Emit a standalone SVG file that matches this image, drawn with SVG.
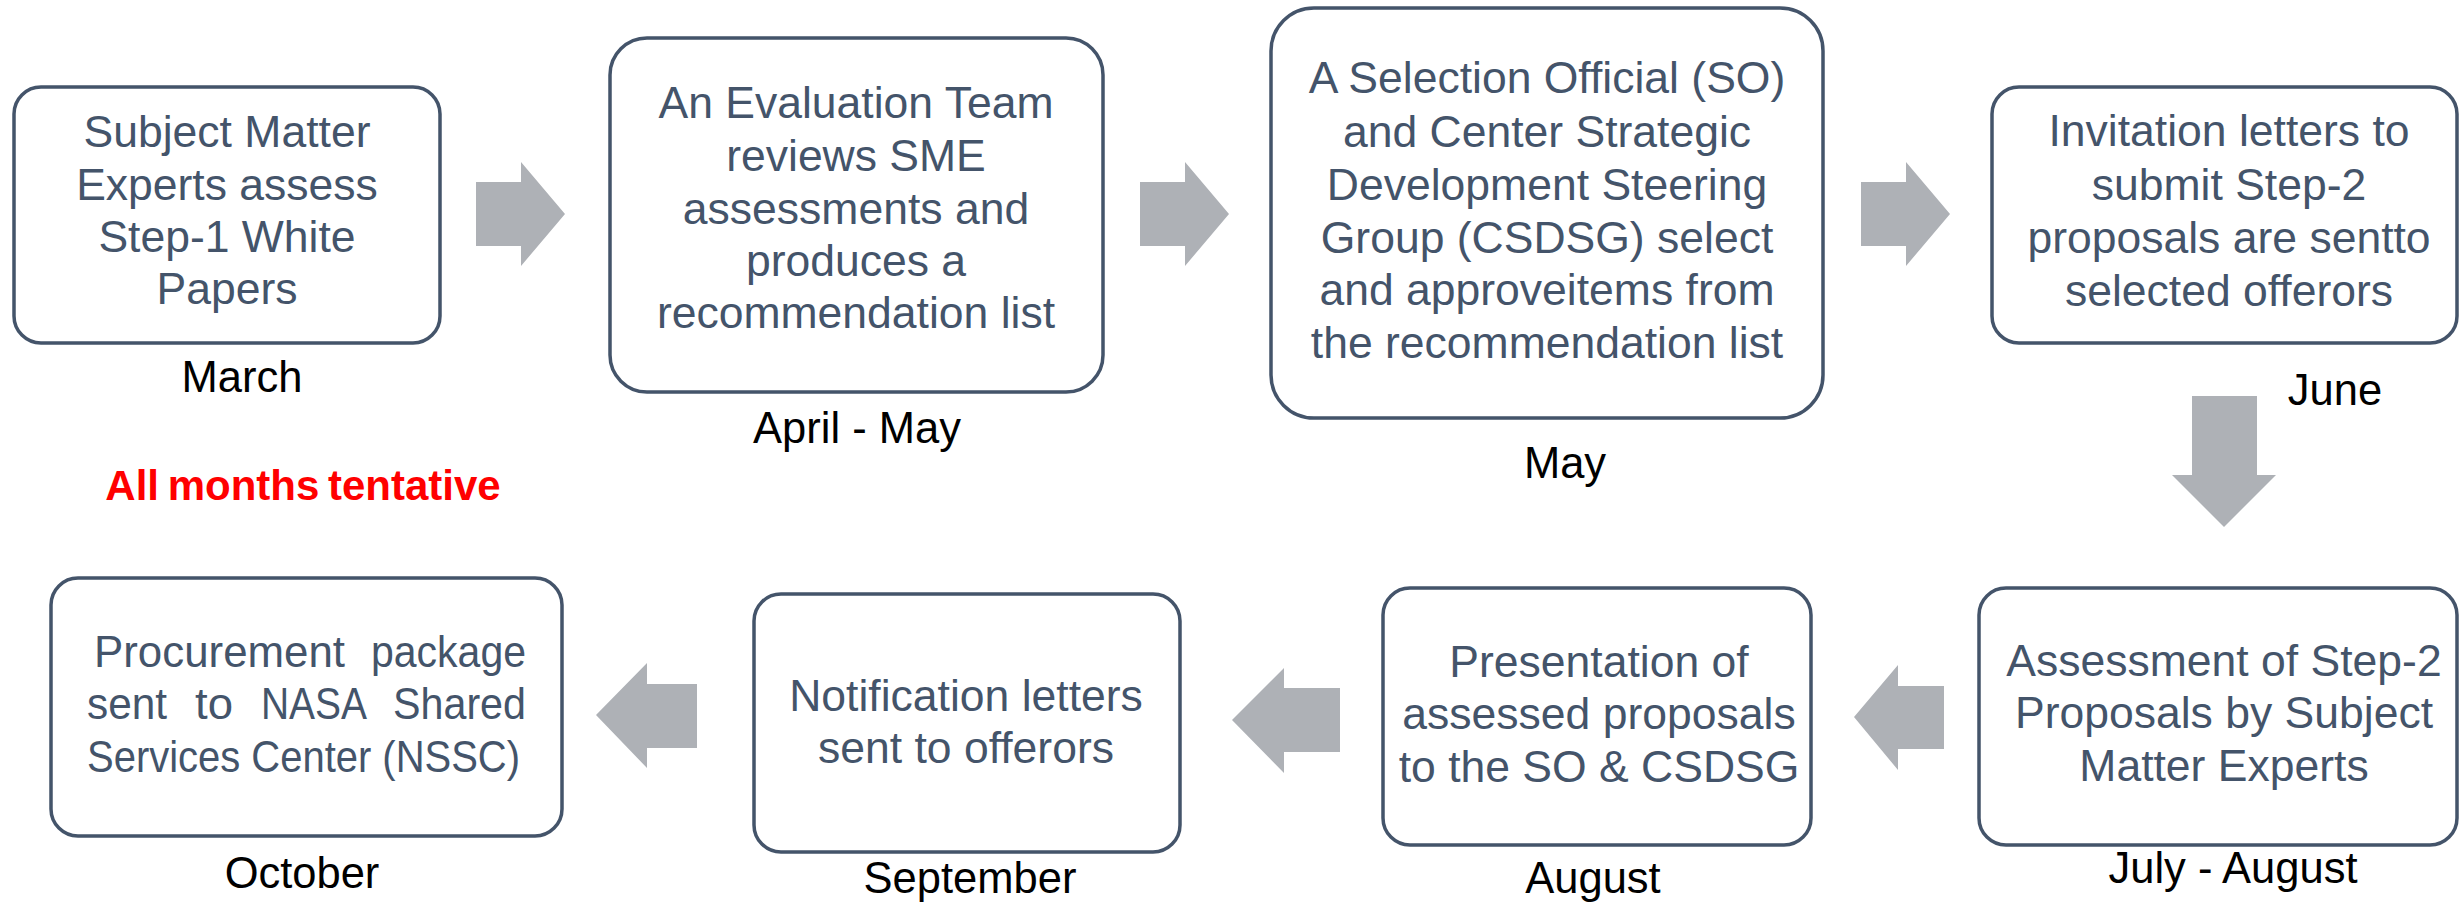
<svg xmlns="http://www.w3.org/2000/svg" width="2461" height="902" viewBox="0 0 2461 902">
  <style>
    .box { fill: #ffffff; stroke: #44546a; stroke-width: 3.5; }
    .txt { font-family: "Liberation Sans", Arial, sans-serif; font-size: 44.5px; fill: #44546a; text-anchor: middle; }
    .txtl { font-family: "Liberation Sans", Arial, sans-serif; font-size: 44.5px; fill: #44546a; }
    .mon { font-family: "Liberation Sans", Arial, sans-serif; font-size: 43.5px; fill: #000000; text-anchor: middle; }
    .note { font-family: "Liberation Sans", Arial, sans-serif; font-size: 42px; font-weight: bold; fill: #ff0000; text-anchor: middle; word-spacing: -3px; }
    .arrow { fill: #aeb1b6; }
  </style>
  <rect x="0" y="0" width="2461" height="902" fill="#ffffff"/>

  <!-- flow arrows -->
  <g id="connectors">
    <polygon class="arrow" points="476,182 521,182 521,162 565,214 521,266 521,246 476,246"/>
    <polygon class="arrow" points="1140,182 1185,182 1185,162 1229,214 1185,266 1185,246 1140,246"/>
    <polygon class="arrow" points="1861,182 1906,182 1906,162 1950,214 1906,266 1906,246 1861,246"/>
    <polygon class="arrow" points="2192,396 2257,396 2257,475 2276,475 2224,527 2172,475 2192,475"/>
    <polygon class="arrow" points="1944,686 1898,686 1898,665 1854,717 1898,770 1898,749 1944,749"/>
    <polygon class="arrow" points="1340,688 1284,688 1284,668 1232,720 1284,773 1284,752 1340,752"/>
    <polygon class="arrow" points="697,684 647,684 647,663 596,715 647,768 647,748 697,748"/>
  </g>

  <g id="step1">
    <rect class="box" x="14" y="87" width="426" height="256" rx="27"/>
    <text class="txt" x="227" y="147">Subject Matter</text>
    <text class="txt" x="227" y="200">Experts assess</text>
    <text class="txt" x="227" y="252">Step-1 White</text>
    <text class="txt" x="227" y="304">Papers</text>
    <text class="mon" x="242" y="392">March</text>
  </g>

  <g id="step2">
    <rect class="box" x="610" y="38" width="493" height="354" rx="37"/>
    <text class="txt" x="856" y="118">An Evaluation Team</text>
    <text class="txt" x="856" y="171">reviews SME</text>
    <text class="txt" x="856" y="224">assessments and</text>
    <text class="txt" x="856" y="276">produces a</text>
    <text class="txt" x="856" y="328">recommendation list</text>
    <text class="mon" x="857" y="443">April - May</text>
  </g>

  <g id="step3">
    <rect class="box" x="1271" y="8" width="552" height="410" rx="43"/>
    <text class="txt" x="1547" y="93">A Selection Official (SO)</text>
    <text class="txt" x="1547" y="147">and Center Strategic</text>
    <text class="txt" x="1547" y="200">Development Steering</text>
    <text class="txt" x="1547" y="253">Group (CSDSG) select</text>
    <text class="txt" x="1547" y="305">and approveitems from</text>
    <text class="txt" x="1547" y="358">the recommendation list</text>
    <text class="mon" x="1565" y="478">May</text>
  </g>

  <g id="step4">
    <rect class="box" x="1992" y="87" width="465" height="256" rx="27"/>
    <text class="txt" x="2229" y="146">Invitation letters to</text>
    <text class="txt" x="2229" y="200">submit Step-2</text>
    <text class="txt" x="2229" y="253">proposals are sentto</text>
    <text class="txt" x="2229" y="306">selected offerors</text>
    <text class="mon" x="2335" y="405">June</text>
  </g>

  <g id="step5">
    <rect class="box" x="1979" y="588" width="478" height="257" rx="27"/>
    <text class="txt" x="2224" y="676">Assessment of Step-2</text>
    <text class="txt" x="2224" y="728">Proposals by Subject</text>
    <text class="txt" x="2224" y="781">Matter Experts</text>
    <text class="mon" x="2233" y="883">July - August</text>
  </g>

  <g id="step6">
    <rect class="box" x="1383" y="588" width="428" height="257" rx="27"/>
    <text class="txt" x="1599" y="677">Presentation of</text>
    <text class="txt" x="1599" y="729">assessed proposals</text>
    <text class="txt" x="1599" y="782">to the SO &amp; CSDSG</text>
    <text class="mon" x="1593" y="893">August</text>
  </g>

  <g id="step7">
    <rect class="box" x="754" y="594" width="426" height="258" rx="27"/>
    <text class="txt" x="966" y="711">Notification letters</text>
    <text class="txt" x="966" y="763">sent to offerors</text>
    <text class="mon" x="970" y="893">September</text>
  </g>

  <!-- justified paragraph: each word placed on its own -->
  <g id="step8">
    <rect class="box" x="51" y="578" width="511" height="258" rx="27"/>
    <text class="txtl" x="94" y="667" textLength="251" lengthAdjust="spacingAndGlyphs">Procurement</text>
    <text class="txtl" x="371" y="667" textLength="155" lengthAdjust="spacingAndGlyphs">package</text>
    <text class="txtl" x="87" y="719" textLength="80" lengthAdjust="spacingAndGlyphs">sent</text>
    <text class="txtl" x="195" y="719" textLength="38" lengthAdjust="spacingAndGlyphs">to</text>
    <text class="txtl" x="261" y="719" textLength="106" lengthAdjust="spacingAndGlyphs">NASA</text>
    <text class="txtl" x="393" y="719" textLength="133" lengthAdjust="spacingAndGlyphs">Shared</text>
    <text class="txtl" x="87" y="772" textLength="433" lengthAdjust="spacingAndGlyphs">Services Center (NSSC)</text>
    <text class="mon" x="302" y="888">October</text>
  </g>

  <g id="note">
    <text class="note" x="303" y="500">All months tentative</text>
  </g>
</svg>
